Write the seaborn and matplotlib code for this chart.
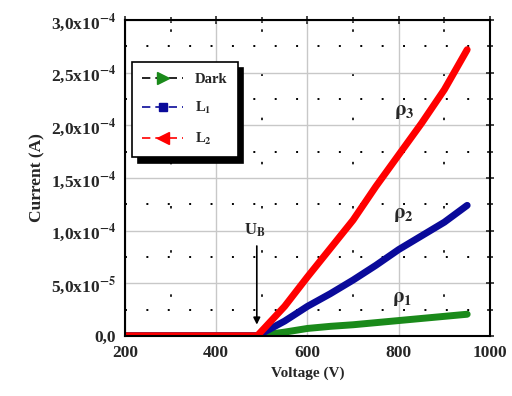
import pandas as pd
import numpy as np
import seaborn as sns
import matplotlib.pyplot as plt
from matplotlib.lines import Line2D
from matplotlib.ticker import MultipleLocator, FixedLocator

# values
voltage = [200, 300, 400, 490, 550, 600, 650, 700, 750, 800, 850, 900, 950]
dark = [0, 0, 0, 0, 0.35e-5, 0.7e-5, 0.9e-5, 1.05e-5, 1.25e-5, 1.45e-5, 1.65e-5, 1.85e-5, 2.05e-5]
l1 = [0, 0, 0, 0, 0.14e-4, 0.28e-4, 0.40e-4, 0.53e-4, 0.67e-4, 0.82e-4, 0.95e-4, 1.08e-4, 1.24e-4]
l2 = [0, 0, 0, 0, 0.28e-4, 0.56e-4, 0.83e-4, 1.10e-4, 1.42e-4, 1.72e-4, 2.02e-4, 2.34e-4, 2.72e-4]
y_ticks = [0, 0.5e-4, 1.0e-4, 1.5e-4, 2.0e-4, 2.5e-4, 3.0e-4]
y_labels = ['0,0', '5,0x10$^{-5}$', '1,0x10$^{-4}$', '1,5x10$^{-4}$',
            '2,0x10$^{-4}$', '2,5x10$^{-4}$', '3,0x10$^{-4}$']

df = pd.DataFrame({'Voltage': voltage * 3,
                   'Current': dark + l1 + l2,
                   'series': ['Dark'] * 13 + ['L1'] * 13 + ['L2'] * 13})

sns.set_style('white')
plt.rcParams['font.family'] = ['Liberation Serif', 'DejaVu Serif']
plt.rcParams['mathtext.fontset'] = 'stix'
plt.rcParams['font.weight'] = 'bold'

fig = plt.figure(figsize=(5.12, 3.96), dpi=100)
ax = fig.add_axes([0.244, 0.152, 0.713, 0.797])

pal = {'Dark': '#1a8a1a', 'L1': '#0a0a9a', 'L2': '#ff0000'}
sns.lineplot(data=df, x='Voltage', y='Current', hue='series', palette=pal,
             linewidth=5, legend=False, ax=ax)

ax.set_xlim(200, 1000)
ax.set_ylim(0, 3.0e-4)
ax.xaxis.set_major_locator(MultipleLocator(200))
ax.xaxis.set_minor_locator(MultipleLocator(100))
ax.yaxis.set_major_locator(FixedLocator(y_ticks))
ax.yaxis.set_minor_locator(MultipleLocator(0.25e-4))
ax.set_yticklabels(y_labels)
ax.grid(which='major', color='#c8c8c8', linewidth=1)
ax.xaxis.grid(which='minor', color='black', linestyle=(3, (1.5, 25)), linewidth=1.2)
ax.yaxis.grid(which='minor', color='black', linestyle=(0, (1, 10)), linewidth=1.4)
for s in ax.spines.values():
    s.set_linewidth(1.5)
    s.set_color('black')
ax.tick_params(which='both', direction='inout', top=True, right=True,
               labelsize=12.5, width=1.2)
ax.tick_params(which='major', length=6)
ax.tick_params(which='minor', length=4)
ax.set_xlabel('Voltage (V)', fontsize=11, fontweight='bold')
ax.set_ylabel('Current (A)', fontsize=12.5, fontweight='bold')

ax.text(790, 2.1e-4, r'$\mathbf{\rho}_3$', fontsize=15)
ax.text(788, 1.12e-4, r'$\mathbf{\rho}_2$', fontsize=15)
ax.text(785, 0.32e-4, r'$\mathbf{\rho}_1$', fontsize=15)
ax.text(462, 0.96e-4, r'U$_{\mathrm{B}}$', fontsize=12)
ax.annotate('', xy=(489, 0.08e-4), xytext=(489, 0.88e-4),
            arrowprops=dict(arrowstyle='-|>', color='black', lw=1.2))

handles = [Line2D([], [], color='black', lw=1.2, ls='--', dashes=(5, 3),
                  marker='>', markersize=8, mfc=pal['Dark'], mec=pal['Dark']),
           Line2D([], [], color=pal['L1'], lw=1.2, ls='--', dashes=(5, 3),
                  marker='s', markersize=5.5, mfc=pal['L1'], mec=pal['L1']),
           Line2D([], [], color=pal['L2'], lw=1.2, ls='--', dashes=(5, 3),
                  marker='<', markersize=8, mfc=pal['L2'], mec=pal['L2'])]
leg = ax.legend(handles, ['Dark', 'L$_1$', 'L$_2$'], loc='upper left',
                bbox_to_anchor=(0.0, 0.89), fancybox=False, framealpha=1,
                edgecolor='black', shadow={'color': 'black', 'alpha': 1, 'ox': 4, 'oy': -4},
                fontsize=10.5, handlelength=2.8, borderpad=0.7, labelspacing=1.0)
leg.get_frame().set_linewidth(1.2)

fig.savefig('out.png', dpi=100)
